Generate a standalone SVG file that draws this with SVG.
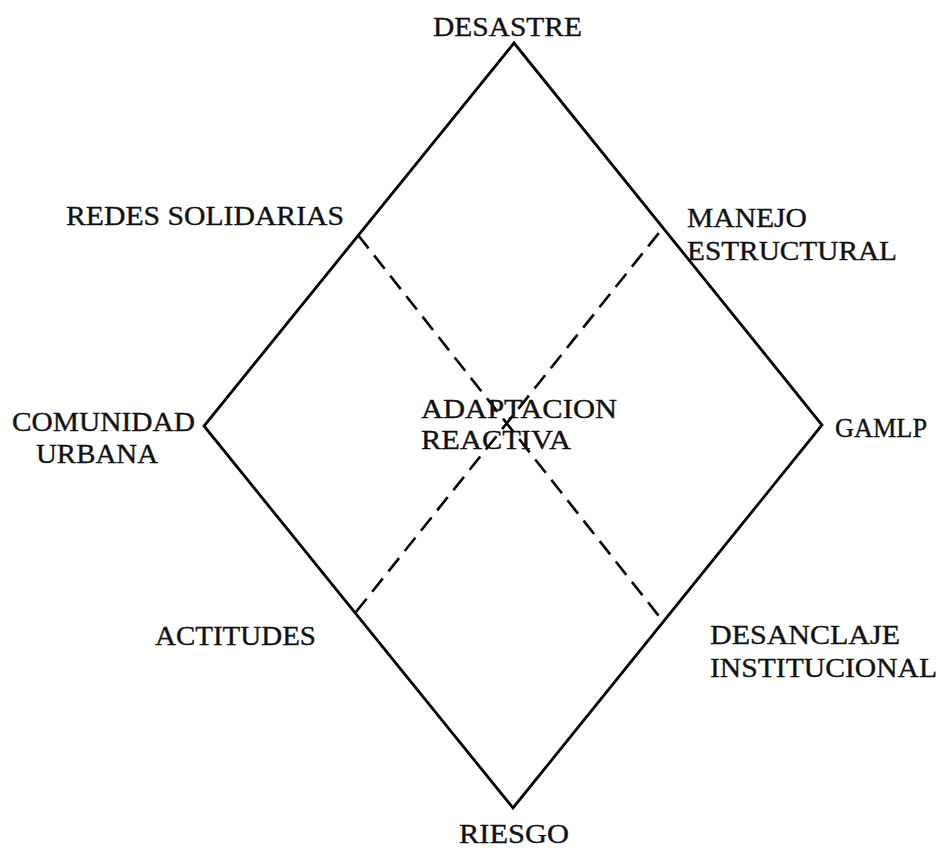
<svg xmlns="http://www.w3.org/2000/svg" width="943" height="852" viewBox="0 0 943 852">
<style>
  .t { font-family: "Liberation Serif", "Times New Roman", serif; font-size: 27px; fill: #111; stroke: #111; stroke-width: 0.35; }
  .solid { fill: none; stroke: #000; stroke-width: 2.8; stroke-linejoin: miter; }
  .dash { fill: none; stroke: #000; stroke-width: 2.6; stroke-dasharray: 17 9; }
</style>
<rect width="943" height="852" fill="#fff"/>
<g id="connectors">
  <polygon class="solid" points="514,43 822,425 513,808 204,426"/>
  <line class="dash" x1="358" y1="235" x2="662" y2="620"/>
  <line class="dash" x1="356" y1="612" x2="662" y2="229"/>
</g>
<g id="desastre"><text class="t" x="433" y="36" textLength="149" lengthAdjust="spacingAndGlyphs">DESASTRE</text></g>
<g id="redes"><text class="t" x="66" y="225" textLength="278" lengthAdjust="spacingAndGlyphs">REDES SOLIDARIAS</text></g>
<g id="manejo">
  <text class="t" x="687" y="227" textLength="120" lengthAdjust="spacingAndGlyphs">MANEJO</text>
  <text class="t" x="687" y="260" textLength="210" lengthAdjust="spacingAndGlyphs">ESTRUCTURAL</text>
</g>
<g id="comunidad">
  <text class="t" x="12" y="431" textLength="183" lengthAdjust="spacingAndGlyphs">COMUNIDAD</text>
  <text class="t" x="36" y="463" textLength="122" lengthAdjust="spacingAndGlyphs">URBANA</text>
</g>
<g id="adaptacion">
  <text class="t" x="421" y="418" textLength="196" lengthAdjust="spacingAndGlyphs">ADAPTACION</text>
  <text class="t" x="421" y="449" textLength="150" lengthAdjust="spacingAndGlyphs">REACTIVA</text>
</g>
<g id="gamlp"><text class="t" x="835" y="437" textLength="92" lengthAdjust="spacingAndGlyphs">GAMLP</text></g>
<g id="actitudes"><text class="t" x="155" y="645" textLength="161" lengthAdjust="spacingAndGlyphs">ACTITUDES</text></g>
<g id="desanclaje">
  <text class="t" x="710" y="644" textLength="190" lengthAdjust="spacingAndGlyphs">DESANCLAJE</text>
  <text class="t" x="710" y="677" textLength="227" lengthAdjust="spacingAndGlyphs">INSTITUCIONAL</text>
</g>
<g id="riesgo"><text class="t" x="459" y="843" textLength="110" lengthAdjust="spacingAndGlyphs">RIESGO</text></g>
</svg>
